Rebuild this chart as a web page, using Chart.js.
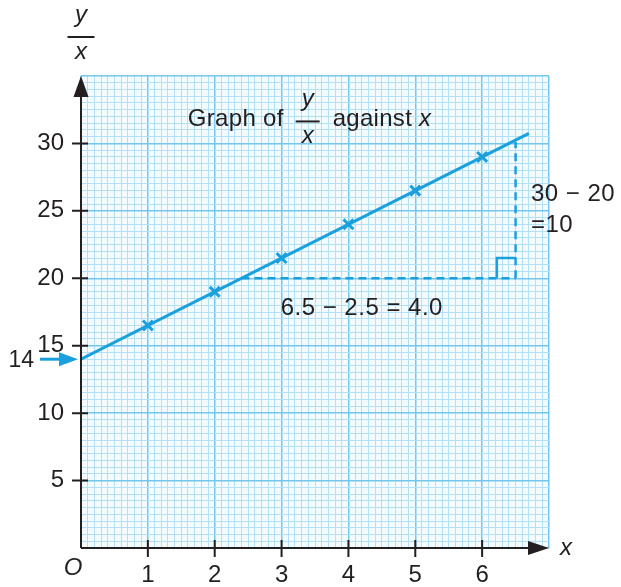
<!DOCTYPE html>
<html>
<head>
<meta charset="utf-8">
<script src="https://cdn.jsdelivr.net/npm/chart.js@4.4.0/dist/chart.umd.min.js"></script>
<style>
  body { margin: 0; background: #fff; }
</style>
</head>
<body>
<canvas id="graph" width="621" height="587"></canvas>
<script>
// measured values of y/x against x
var xValues = [1, 2, 3, 4, 5, 6];
var yOverX = [16.5, 19, 21.5, 24, 26.5, 29];

// straight line through the points, starting at the intercept
var fitX = [0, 6.7];
var fitY = [14, 30.75];
var intercept = 14;

// gradient triangle (dashed) and its right-angle mark
var runX = [2.4, 6.5];
var runY = [20, 20];
var riseX = [6.5, 6.5];
var riseY = [20, 30.1];
var cornerX = [6.22, 6.22, 6.5];
var cornerY = [20, 21.5, 21.5];

// axis tick labels
var xLabels = [1, 2, 3, 4, 5, 6];
var yLabels = [5, 10, 15, 20, 25, 30];

var BLUE = '#1aa0dc';
var INK = '#231f20';
var FONT = '"Liberation Sans", Arial, sans-serif';

function pts(xs, ys) {
  var out = [];
  for (var i = 0; i < xs.length; i++) out.push({ x: xs[i], y: ys[i] });
  return out;
}

// draws a y over x fraction, bar centred on (cx, barY)
function fraction(c, cx, barY, w) {
  c.font = 'italic 24px ' + FONT;
  c.textAlign = 'center';
  c.textBaseline = 'alphabetic';
  c.fillText('y', cx, barY - 15);
  c.fillText('x', cx, barY + 22);
  c.lineWidth = 2;
  c.beginPath();
  c.moveTo(cx - w / 2, barY);
  c.lineTo(cx + w / 2, barY);
  c.stroke();
}

var paper = {
  id: 'paper',
  beforeDraw: function (chart) {
    var a = chart.chartArea, c = chart.ctx;
    c.save();
    c.fillStyle = '#f4fbfe';
    c.fillRect(a.left, a.top, a.right - a.left, a.bottom - a.top);
    c.restore();
  },
  afterDraw: function (chart) {
    var c = chart.ctx, a = chart.chartArea;
    var xs = chart.scales.x, ys = chart.scales.y;
    var ox = xs.getPixelForValue(0), oy = ys.getPixelForValue(0);
    c.save();
    c.strokeStyle = INK;
    c.fillStyle = INK;

    // axes with arrow heads
    c.lineWidth = 2;
    c.beginPath();
    c.moveTo(ox, oy); c.lineTo(ox, a.top + 18);
    c.moveTo(ox, oy); c.lineTo(a.right - 18, oy);
    c.stroke();
    c.beginPath();
    c.moveTo(ox, a.top); c.lineTo(ox - 7.5, a.top + 21); c.lineTo(ox + 7.5, a.top + 21); c.closePath();
    c.fill();
    c.beginPath();
    c.moveTo(a.right, oy); c.lineTo(a.right - 21, oy - 7); c.lineTo(a.right - 21, oy + 7); c.closePath();
    c.fill();

    // tick marks crossing the axes
    c.beginPath();
    xLabels.forEach(function (v) {
      var px = xs.getPixelForValue(v);
      c.moveTo(px, oy - 8); c.lineTo(px, oy + 9);
    });
    yLabels.forEach(function (v) {
      var py = ys.getPixelForValue(v);
      c.moveTo(ox - 9, py); c.lineTo(ox + 7, py);
    });
    c.stroke();

    // axis names and origin
    c.font = 'italic 24px ' + FONT;
    c.textAlign = 'center';
    c.textBaseline = 'middle';
    c.fillText('x', a.right + 17, oy);
    c.fillText('O', ox - 8, oy + 20);
    fraction(c, ox, a.top - 39, 27);

    // title: Graph of y/x against x
    c.letterSpacing = '0.3px';
    var tx = xs.getPixelForValue(3.39), tb = ys.getPixelForValue(31.26);
    c.font = '24px ' + FONT;
    c.textBaseline = 'alphabetic';
    c.textAlign = 'right';
    c.fillText('Graph of', tx - 24, tb);
    c.textAlign = 'left';
    c.fillText('against ', tx + 25, tb);
    var wA = c.measureText('against ').width;
    c.font = 'italic 24px ' + FONT;
    c.fillText('x', tx + 25 + wA, tb);
    c.letterSpacing = '0px';
    fraction(c, tx, tb - 5, 24);

    // gradient working
    c.letterSpacing = '0.5px';
    c.font = '24px ' + FONT;
    c.textAlign = 'center';
    c.textBaseline = 'middle';
    c.fillText('6.5 \u2212 2.5 = 4.0', xs.getPixelForValue(4.2), ys.getPixelForValue(17.8));
    c.textAlign = 'left';
    c.fillText('30 \u2212 20', xs.getPixelForValue(6.73), ys.getPixelForValue(26.2));
    c.fillText('=10', xs.getPixelForValue(6.73), ys.getPixelForValue(23.9));
    c.letterSpacing = '0px';

    // intercept marker
    var iy = ys.getPixelForValue(intercept);
    c.font = '23px ' + FONT;
    c.textAlign = 'right';
    c.fillText(String(intercept), ox - 47, iy + 1);
    c.strokeStyle = BLUE;
    c.fillStyle = BLUE;
    c.lineWidth = 3;
    c.beginPath();
    c.moveTo(ox - 41, iy); c.lineTo(ox - 14, iy);
    c.stroke();
    c.beginPath();
    c.moveTo(ox - 3, iy); c.lineTo(ox - 22, iy - 7); c.lineTo(ox - 22, iy + 7); c.closePath();
    c.fill();
    c.restore();
  }
};

new Chart(document.getElementById('graph'), {
  type: 'scatter',
  data: {
    datasets: [
      {
        label: 'fit',
        type: 'line',
        data: pts(fitX, fitY),
        borderColor: BLUE,
        borderWidth: 3,
        pointRadius: 0,
        fill: false
      },
      {
        label: 'run',
        type: 'line',
        data: pts(runX, runY),
        borderColor: BLUE,
        borderWidth: 2.5,
        borderDash: [8, 5],
        pointRadius: 0
      },
      {
        label: 'rise',
        type: 'line',
        data: pts(riseX, riseY),
        borderColor: BLUE,
        borderWidth: 2.5,
        borderDash: [8, 5],
        pointRadius: 0
      },
      {
        label: 'corner',
        type: 'line',
        data: pts(cornerX, cornerY),
        borderColor: BLUE,
        borderWidth: 2.5,
        pointRadius: 0
      },
      {
        label: 'points',
        data: pts(xValues, yOverX),
        pointStyle: 'crossRot',
        pointRadius: 7,
        borderColor: BLUE,
        borderWidth: 3
      }
    ]
  },
  options: {
    responsive: false,
    animation: false,
    layout: { padding: { top: 76, right: 72, left: 0, bottom: 0 } },
    plugins: { legend: { display: false }, tooltip: { enabled: false } },
    scales: {
      x: {
        type: 'linear',
        min: 0,
        max: 7,
        afterFit: function (s) { s.height = 39; },
        border: { display: false },
        grid: {
          drawTicks: false,
          color: function (ctx) {
            var v = Math.round(ctx.tick.value * 10);
            return v % 10 === 0 ? '#74c6ea' : '#b3e0f4';
          },
          lineWidth: function (ctx) {
            var v = Math.round(ctx.tick.value * 10);
            return v % 10 === 0 ? 1.5 : 1;
          }
        },
        ticks: {
          stepSize: 0.1,
          autoSkip: false,
          maxRotation: 0,
          padding: 13,
          color: INK,
          font: { family: FONT, size: 24 },
          callback: function (v) {
            var r = Math.round(v * 10) / 10;
            return xLabels.indexOf(r) >= 0 ? String(r) : '';
          }
        }
      },
      y: {
        type: 'linear',
        min: 0,
        max: 35,
        afterFit: function (s) { s.width = 81; },
        border: { display: false },
        grid: {
          drawTicks: false,
          color: function (ctx) {
            var v = Math.round(ctx.tick.value * 2);
            return v % 10 === 0 ? '#74c6ea' : '#b3e0f4';
          },
          lineWidth: function (ctx) {
            var v = Math.round(ctx.tick.value * 2);
            return v % 10 === 0 ? 1.5 : 1;
          }
        },
        ticks: {
          stepSize: 0.5,
          autoSkip: false,
          padding: 17,
          color: INK,
          font: { family: FONT, size: 24 },
          callback: function (v) {
            return yLabels.indexOf(v) >= 0 ? String(v) : '';
          }
        }
      }
    }
  },
  plugins: [paper]
});
</script>
</body>
</html>
